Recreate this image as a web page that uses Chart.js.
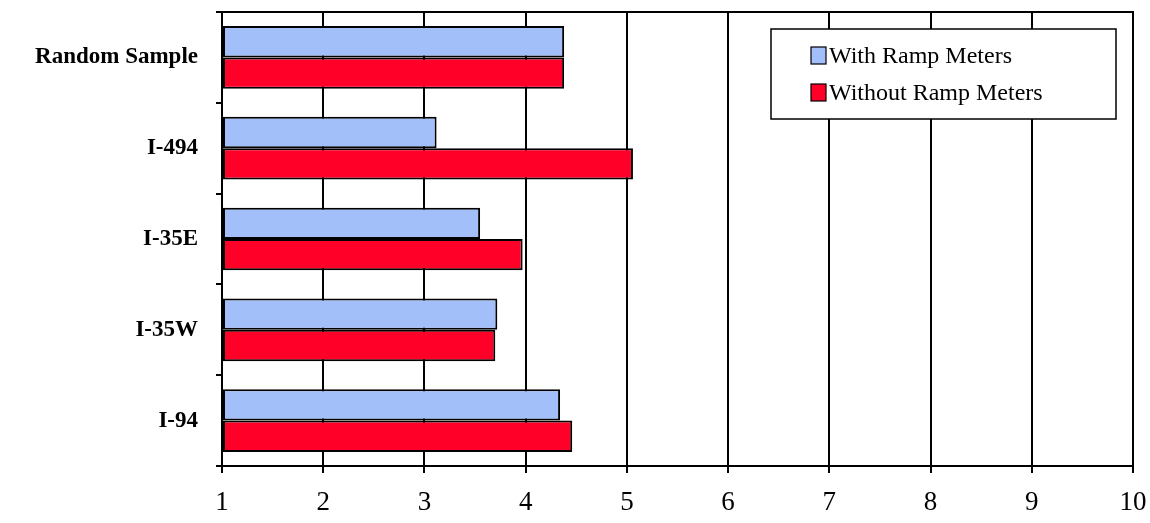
<!DOCTYPE html>
<html>
<head>
<script src="https://cdn.jsdelivr.net/npm/chart.js@4/dist/chart.umd.min.js"></script>
<style>
  html, body { margin: 0; padding: 0; background: #fff; }
  #wrap { width: 1150px; height: 523px; }
</style>
</head>
<body>
<div id="wrap"><canvas id="myChart"></canvas></div>
<script>
const categories = ["Random Sample", "I-494", "I-35E", "I-35W", "I-94"];
const withMeters = [4.38, 3.12, 3.55, 3.72, 4.34];
const withoutMeters = [4.38, 5.06, 3.97, 3.70, 4.46];
const seriesNames = ["With Ramp Meters", "Without Ramp Meters"];
const serif = "'Liberation Serif', 'DejaVu Serif', serif";

const boxAndLegend = {
    id: 'boxAndLegend',
    afterDatasetsDraw: function(chart) {
        const ctx = chart.ctx, a = chart.chartArea;
        ctx.save();
        ctx.strokeStyle = '#000';
        ctx.lineWidth = 2;
        ctx.strokeRect(a.left, a.top, a.right - a.left, a.bottom - a.top);
        // legend box
        const lx = 771, ly = 29, lw = 345, lh = 90;
        ctx.fillStyle = '#fff';
        ctx.fillRect(lx, ly, lw, lh);
        ctx.lineWidth = 1.5;
        ctx.strokeRect(lx, ly, lw, lh);
        ctx.font = "24px " + serif;
        ctx.textBaseline = 'middle';
        chart.data.datasets.forEach(function(ds, i) {
            const y = ly + 27 + i * 37;
            ctx.fillStyle = ds.backgroundColor;
            ctx.fillRect(lx + 40, y - 9, 15, 17);
            ctx.lineWidth = 1.2;
            ctx.strokeRect(lx + 40, y - 9, 15, 17);
            ctx.fillStyle = '#000';
            ctx.fillText(ds.label, lx + 58, y + 1);
        });
        ctx.restore();
    }
};

new Chart(document.getElementById("myChart"), {
    type: 'bar',
    data: {
        labels: categories,
        datasets: [
            { label: seriesNames[0], data: withMeters, backgroundColor: '#a3bffa', borderColor: '#000', borderWidth: 2, borderSkipped: false },
            { label: seriesNames[1], data: withoutMeters, backgroundColor: '#ff0029', borderColor: '#000', borderWidth: 2, borderSkipped: false }
        ]
    },
    options: {
        indexAxis: 'y',
        responsive: true,
        maintainAspectRatio: false,
        animation: false,
        layout: { padding: { top: 0, right: 0, left: 0, bottom: 0 } },
        datasets: { bar: { categoryPercentage: 0.69, barPercentage: 1.0, base: 1 } },
        plugins: { legend: { display: false }, tooltip: { enabled: false } },
        scales: {
            x: {
                min: 1, max: 10,
                ticks: { stepSize: 1, color: '#000', font: { family: serif, size: 27 }, padding: 14, maxRotation: 0 },
                grid: { color: '#000', lineWidth: 2, tickLength: 7 },
                border: { color: '#000', width: 2 },
                afterFit: function(s) { s.height = 57; s.paddingRight = 17; }
            },
            y: {
                ticks: { color: '#000', font: { family: serif, size: 23, weight: 'bold' }, padding: 18 },
                grid: { drawOnChartArea: false, offset: true, color: '#000', lineWidth: 2, tickLength: 6 },
                border: { color: '#000', width: 2 },
                afterFit: function(s) { s.width = 222; s.paddingTop = 12; s.paddingBottom = 0; }
            }
        }
    },
    plugins: [boxAndLegend]
});
</script>
</body>
</html>
